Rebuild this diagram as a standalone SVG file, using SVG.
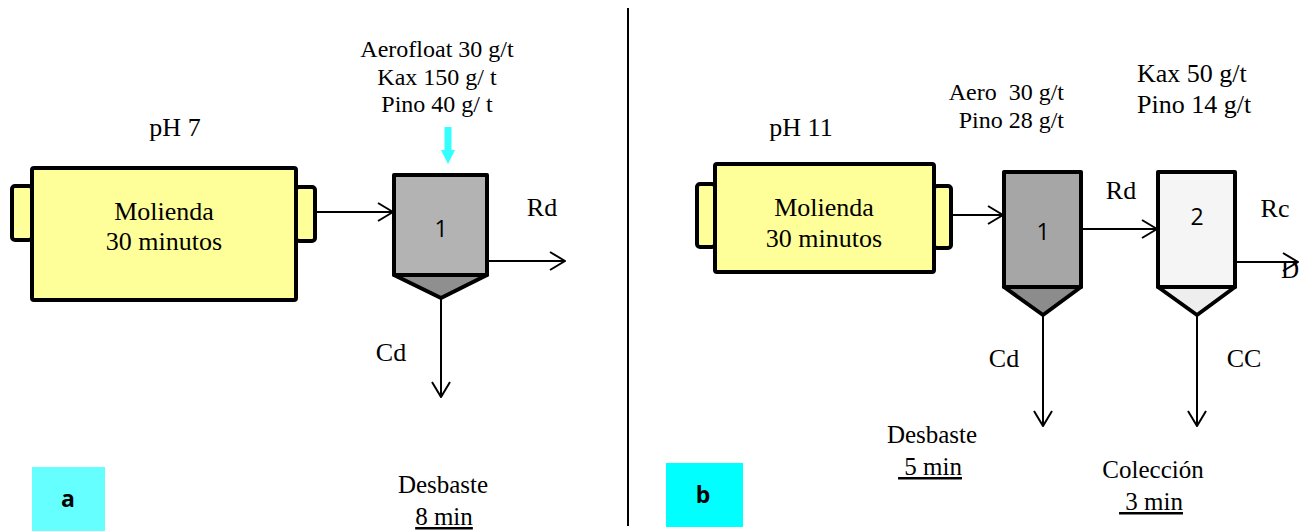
<svg xmlns="http://www.w3.org/2000/svg" width="1309" height="531" viewBox="0 0 1309 531">
  <style>
    .t { font-family: "Liberation Serif", "Times New Roman", serif; font-size: 25px; fill: #000; }
    .big { font-size: 26px; }
    .sm { font-size: 24px; }
    .num { font-family: "Open Sans", "Liberation Sans", Arial, sans-serif; font-size: 23px; fill: #000; }
    .tag { font-family: "Open Sans", "Liberation Sans", Arial, sans-serif; font-size: 23px; font-weight: bold; fill: #000; }
    .mill { fill: #ffff99; stroke: #000; stroke-width: 4; stroke-linejoin: round; }
    .cell { stroke: #000; stroke-width: 4; stroke-linejoin: round; }
    .flow { fill: none; stroke: #000; stroke-width: 2; }
    .u { text-decoration: underline; }
  </style>
  <defs>
    <marker id="open" viewBox="0 0 17 20" refX="16" refY="10" markerWidth="17" markerHeight="20" markerUnits="userSpaceOnUse" orient="auto">
      <path d="M1,1 L16,10 L1,19" fill="none" stroke="#000" stroke-width="2"/>
    </marker>
  </defs>

  <rect width="1309" height="531" fill="#fff"/>

  <!-- divider between the two circuits -->
  <line x1="628" y1="8" x2="628" y2="526" stroke="#000" stroke-width="2"/>

  <!-- ===== circuit a ===== -->
  <text class="t big" x="175" y="136" text-anchor="middle">pH 7</text>

  <g id="mill-a">
    <rect class="mill" x="12" y="186" width="20" height="54" rx="3"/>
    <rect class="mill" x="296" y="187" width="19" height="54" rx="3"/>
    <rect class="mill" x="32" y="168" width="264" height="132" rx="2"/>
    <text class="t big" x="164" y="220" text-anchor="middle">Molienda</text>
    <text class="t big" x="164" y="250" text-anchor="middle">30 minutos</text>
  </g>

  <g id="reagents-a">
    <text class="t sm" x="437" y="57" text-anchor="middle">Aerofloat 30 g/t</text>
    <text class="t sm" x="437" y="85" text-anchor="middle">Kax 150 g/ t</text>
    <text class="t sm" x="437" y="112" text-anchor="middle">Pino 40 g/ t</text>
    <path d="M444.5,127 H451.5 V150 H455 L448,164 L441,150 H444.5 Z" fill="#33ffff"/>
  </g>

  <g id="cell-a1">
    <rect class="cell" x="394" y="175" width="93" height="100" fill="#b3b3b3"/>
    <path class="cell" d="M394,275 H487 L441,298 Z" fill="#8f8f8f"/>
    <text class="num" x="441" y="237" text-anchor="middle">1</text>
  </g>

  <g id="connectors-a">
    <line class="flow" x1="315" y1="212" x2="393" y2="212" marker-end="url(#open)"/>
    <line class="flow" x1="487" y1="261" x2="565" y2="261" marker-end="url(#open)"/>
    <line class="flow" x1="441" y1="298" x2="441" y2="397" marker-end="url(#open)"/>
  </g>
  <text class="t big" x="542" y="216" text-anchor="middle">Rd</text>
  <text class="t big" x="391" y="361" text-anchor="middle">Cd</text>

  <text class="t" x="443" y="493" text-anchor="middle">Desbaste</text>
  <text class="t u" x="444" y="525" text-anchor="middle">8 min</text>

  <g id="label-a">
    <rect x="32" y="467" width="73" height="64" fill="#66ffff"/>
    <text class="tag" x="68" y="507" text-anchor="middle">a</text>
  </g>

  <!-- ===== circuit b ===== -->
  <text class="t big" x="801" y="136" text-anchor="middle">pH 11</text>

  <g id="mill-b">
    <rect class="mill" x="697" y="184" width="18" height="63" rx="3"/>
    <rect class="mill" x="934" y="186" width="17" height="62" rx="3"/>
    <rect class="mill" x="715" y="164" width="219" height="108" rx="2"/>
    <text class="t big" x="824" y="216" text-anchor="middle">Molienda</text>
    <text class="t big" x="824" y="247" text-anchor="middle">30 minutos</text>
  </g>

  <g id="reagents-b1">
    <text class="t sm" x="1064" y="100" text-anchor="end" xml:space="preserve">Aero  30 g/t</text>
    <text class="t sm" x="1064" y="128" text-anchor="end">Pino 28 g/t</text>
  </g>
  <g id="reagents-b2">
    <text class="t big" x="1137" y="82">Kax 50 g/t</text>
    <text class="t big" x="1137" y="113">Pino 14 g/t</text>
  </g>

  <g id="cell-b1">
    <rect class="cell" x="1004" y="172" width="77" height="115" fill="#a6a6a6"/>
    <path class="cell" d="M1004,287 H1081 L1043,315 Z" fill="#8c8c8c"/>
    <text class="num" x="1043" y="240" text-anchor="middle">1</text>
  </g>

  <g id="cell-b2">
    <rect class="cell" x="1158" y="172" width="77" height="115" fill="#f5f5f5"/>
    <path class="cell" d="M1158,287 H1235 L1197,315 Z" fill="#eeeeee"/>
    <text class="num" x="1197" y="225" text-anchor="middle">2</text>
  </g>

  <g id="connectors-b">
    <line class="flow" x1="951" y1="215" x2="1003" y2="215" marker-end="url(#open)"/>
    <line class="flow" x1="1081" y1="229" x2="1157" y2="229" marker-end="url(#open)"/>
    <line class="flow" x1="1235" y1="262" x2="1298" y2="262" marker-end="url(#open)"/>
    <line class="flow" x1="1043" y1="315" x2="1043" y2="426" marker-end="url(#open)"/>
    <line class="flow" x1="1197" y1="315" x2="1197" y2="426" marker-end="url(#open)"/>
  </g>
  <text class="t big" x="1275" y="217" text-anchor="middle">Rc</text>
  <text class="t big" x="1121" y="199" text-anchor="middle">Rd</text>
  <text class="t" x="1281" y="278" font-size="20">D</text>
  <text class="t big" x="1004" y="367" text-anchor="middle">Cd</text>
  <text class="t big" x="1244" y="367" text-anchor="middle">CC</text>

  <text class="t" x="932" y="443" text-anchor="middle">Desbaste</text>
  <text class="t u" x="930" y="475" text-anchor="middle" xml:space="preserve"> 5 min</text>
  <text class="t" x="1153" y="478" text-anchor="middle">Colección</text>
  <text class="t u" x="1151" y="510" text-anchor="middle" xml:space="preserve"> 3 min</text>

  <g id="label-b">
    <rect x="666" y="463" width="77" height="64" fill="#00ffff"/>
    <text class="tag" x="703" y="503" text-anchor="middle">b</text>
  </g>
</svg>
